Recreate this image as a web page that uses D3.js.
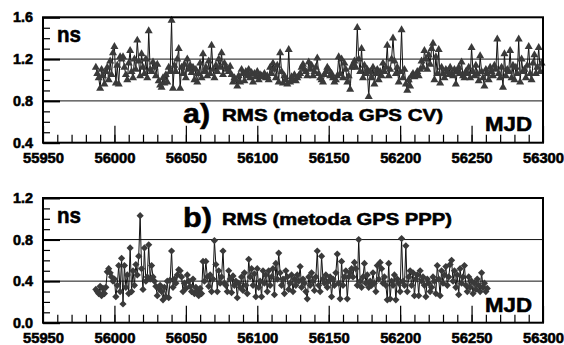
<!DOCTYPE html>
<html>
<head>
<meta charset="utf-8">
<script src="https://cdn.jsdelivr.net/npm/d3@7"></script>
<style>
  body { margin: 0; background: #fff; }
  svg text { font-family: "Liberation Sans", Arimo, Arial, sans-serif; font-weight: 700; fill: #000; stroke: #000; stroke-width: 0.55px; }
</style>
</head>
<body>
<div id="chart"></div>
<script>
// MJD of the first daily sample in each series
const cvStartMjd = 55987;
const pppStartMjd = 55987;

// a) RMS, GPS CV method (ns), one value per day
const cvRms = [
  1.12, 1.06, 1.02, 0.92, 1.10, 1.04, 0.96, 1.08, 1.12, 1.00,
  1.18, 1.05, 1.26, 1.32, 0.97, 1.14, 0.96, 1.22, 1.20, 1.22,
  1.12, 1.05, 1.00, 1.16, 1.28, 1.08, 1.02, 1.20, 1.10, 1.38,
  1.18, 1.04, 1.25, 1.12, 1.06, 1.20, 1.02, 1.47, 1.10, 1.08,
  1.17, 1.12, 1.04, 1.15, 0.99, 0.95, 0.93, 1.02, 0.97, 1.05,
  0.98, 1.12, 1.08, 1.57, 0.92, 1.14, 1.08, 1.20, 1.30, 0.92,
  1.12, 1.06, 1.15, 1.02, 1.20, 1.10, 1.14, 1.07, 1.12, 1.00,
  1.10, 0.98, 1.06, 1.16, 1.02, 1.25, 1.08, 1.12, 1.04, 1.18,
  1.06, 1.33, 1.10, 1.02, 1.14, 1.08, 1.20, 1.12, 1.26, 1.05,
  1.16, 1.12, 1.10, 1.08, 1.13, 1.05, 0.98, 1.02, 1.00, 0.94,
  1.04, 0.98, 1.10, 1.06, 0.99, 1.08, 1.04, 1.10, 1.02, 1.07,
  0.98, 1.06, 1.03, 1.08, 1.00, 1.05, 1.04, 1.03, 1.06, 1.02,
  1.04, 1.00, 1.12, 1.06, 1.16, 1.10, 1.02, 1.14, 0.98, 1.26,
  1.08, 0.97, 1.04, 1.00, 0.96, 1.29, 0.98, 1.03, 1.00, 1.05,
  0.99, 1.02, 1.04, 1.06, 1.12, 1.15, 1.10, 1.08, 1.04, 1.17,
  1.10, 1.14, 1.04, 1.08, 1.12, 1.21, 1.06, 1.02, 1.00, 0.98,
  1.05, 1.08, 1.12, 1.10, 1.04, 1.06, 1.02, 0.98, 1.00, 1.04,
  1.22, 1.06, 1.20, 1.02, 1.16, 1.10, 0.98, 1.04, 0.91, 1.12,
  1.15, 1.18, 1.12, 1.50, 1.20, 1.08, 1.30, 1.02, 1.14, 1.06,
  1.10, 0.84, 1.08, 1.02, 1.12, 0.96, 1.06, 1.10, 1.00, 1.08,
  1.04, 1.16, 1.08, 1.12, 1.33, 1.04, 1.10, 1.20, 1.40, 1.18,
  1.06, 1.12, 0.98, 1.08, 1.48, 1.02, 1.10, 0.96, 0.90, 1.00,
  0.94, 1.04, 1.06, 1.03, 1.05, 1.08, 1.04, 1.10, 1.18, 1.12,
  1.28, 1.20, 1.10, 1.24, 1.15, 1.30, 1.35, 1.00, 1.22, 1.06,
  1.29, 0.97, 1.12, 1.06, 1.02, 1.10, 1.08, 1.05, 1.12, 1.06,
  1.04, 1.10, 0.96, 1.08, 1.12, 1.06, 1.17, 1.04, 1.02, 1.08,
  1.06, 1.12, 1.02, 1.31, 1.08, 1.04, 1.14, 1.06, 0.99, 1.23,
  1.08, 1.02, 0.94, 1.10, 1.06, 1.00, 1.12, 1.08, 1.04, 1.14,
  1.10, 1.39, 1.06, 1.02, 1.12, 0.93, 1.25, 1.04, 1.10, 1.08,
  1.28, 1.02, 1.14, 1.00, 1.12, 1.06, 1.39, 0.98, 1.20, 1.08,
  1.10, 1.02, 1.14, 1.32, 1.06, 1.00, 1.16, 1.24, 1.06, 1.12,
  1.31, 1.08, 1.16
];

// b) RMS, GPS PPP method (ns), one value per day
const pppRms = [
  0.32, 0.30, 0.28, 0.35, 0.26, 0.33, 0.28, 0.34, 0.49, 0.52,
  0.48, 0.44, 0.40, 0.42, 0.25, 0.36, 0.55, 0.30, 0.62, 0.18,
  0.55, 0.34, 0.46, 0.28, 0.72, 0.30, 0.50, 0.36, 0.56, 0.46,
  0.64, 1.03, 0.52, 0.32, 0.72, 0.40, 0.44, 0.75, 0.42, 0.55,
  0.44, 0.40, 0.35, 0.26, 0.33, 0.36, 0.30, 0.22, 0.34, 0.25,
  0.40, 0.24, 0.41, 0.69, 0.34, 0.42, 0.38, 0.46, 0.51, 0.50,
  0.44, 0.30, 0.38, 0.33, 0.46, 0.40, 0.35, 0.30, 0.42, 0.28,
  0.34, 0.30, 0.26, 0.33, 0.28, 0.59, 0.40, 0.59, 0.44, 0.35,
  0.46, 0.30, 0.42, 0.79, 0.56, 0.30, 0.50, 0.38, 0.44, 0.69,
  0.38, 0.36, 0.30, 0.50, 0.42, 0.29, 0.45, 0.36, 0.40, 0.24,
  0.38, 0.34, 0.44, 0.31, 0.48, 0.36, 0.28, 0.61, 0.44, 0.52,
  0.36, 0.47, 0.25, 0.52, 0.34, 0.40, 0.25, 0.50, 0.38, 0.46,
  0.30, 0.50, 0.36, 0.44, 0.52, 0.27, 0.57, 0.42, 0.67, 0.48,
  0.36, 0.42, 0.28, 0.50, 0.44, 0.32, 0.38, 0.46, 0.30, 0.42,
  0.36, 0.46, 0.40, 0.54, 0.34, 0.42, 0.38, 0.30, 0.23, 0.44,
  0.36, 0.48, 0.40, 0.31, 0.44, 0.69, 0.36, 0.30, 0.64, 0.42,
  0.38, 0.46, 0.34, 0.40, 0.44, 0.25, 0.42, 0.36, 0.48, 0.66,
  0.38, 0.23, 0.59, 0.36, 0.44, 0.50, 0.23, 0.44, 0.48, 0.52,
  0.44, 0.58, 0.52, 0.36, 0.80, 0.40, 0.34, 0.44, 0.57, 0.38,
  0.46, 0.34, 0.40, 0.36, 0.48, 0.38, 0.30, 0.55, 0.42, 0.58,
  0.52, 0.38, 0.44, 0.36, 0.22, 0.57, 0.23, 0.40, 0.36, 0.46,
  0.22, 0.42, 0.38, 0.30, 0.81, 0.40, 0.36, 0.74, 0.30, 0.44,
  0.50, 0.36, 0.48, 0.26, 0.42, 0.46, 0.26, 0.50, 0.40, 0.44,
  0.36, 0.25, 0.42, 0.38, 0.30, 0.34, 0.44, 0.40, 0.28, 0.55,
  0.42, 0.26, 0.50, 0.38, 0.46, 0.54, 0.36, 0.44, 0.56, 0.60,
  0.40, 0.50, 0.34, 0.46, 0.27, 0.52, 0.38, 0.44, 0.55, 0.36,
  0.30, 0.44, 0.34, 0.40, 0.28, 0.38, 0.32, 0.42, 0.36, 0.30,
  0.48, 0.34, 0.38, 0.30, 0.33
];

// tick labels
const xTickLabels = [55950, 56000, 56050, 56100, 56150, 56200, 56250, 56300];
const yTickLabelsA = [0.4, 0.8, 1.2, 1.6];
const yTickLabelsB = [0.0, 0.4, 0.8, 1.2];

const width = 564;
const height = 345;

const svg = d3.select('#chart')
  .append('svg')
  .attr('width', width)
  .attr('height', height);

svg.append('rect').attr('width', width).attr('height', height).attr('fill', '#fff');

function toPoints(start, values) {
  return values.map((v, i) => ({ mjd: start + i, value: v }));
}

// tick text: bold 14px, slightly widened like the original
function styleTickText(a, labelWidth) {
  a.attr('font-family', null).attr('font-size', null);
  a.selectAll('text')
    .style('font-size', '14px')
    .attr('textLength', labelWidth)
    .attr('lengthAdjust', 'spacingAndGlyphs');
}

function drawPanel(opts) {
  const { top, bottom, left, right, yTicks, data, symbol, rotate, label, title, titleWidth, letterWidth, mjdY } = opts;

  const x = d3.scaleLinear()
    .domain([xTickLabels[0], xTickLabels[xTickLabels.length - 1]])
    .range([left, right]);
  const y = d3.scaleLinear()
    .domain([yTicks[0], yTicks[yTicks.length - 1]])
    .range([bottom, top]);

  const g = svg.append('g');

  // Grid lines at interior major ticks
  g.selectAll('.grid')
    .data(yTicks.slice(1, -1))
    .enter()
    .append('line')
    .attr('x1', left).attr('x2', right)
    .attr('y1', d => y(d)).attr('y2', d => y(d))
    .attr('stroke', '#111')
    .attr('stroke-width', 1);

  // Minor x ticks (every 10 days)
  const minorX = d3.range(xTickLabels[0] + 10, xTickLabels[xTickLabels.length - 1], 10);
  g.append('g')
    .attr('transform', `translate(0,${bottom})`)
    .call(d3.axisBottom(x).tickValues(minorX).tickSize(-8).tickFormat(''))
    .call(a => a.select('.domain').remove())
    .call(a => a.selectAll('line').attr('stroke', '#000').attr('stroke-width', 1.2));

  // Major x ticks and labels
  g.append('g')
    .attr('transform', `translate(0,${bottom})`)
    .call(d3.axisBottom(x).tickValues(xTickLabels).tickSize(-17).tickPadding(10).tickFormat(d3.format('d')))
    .call(a => a.select('.domain').remove())
    .call(a => a.selectAll('line').attr('stroke', '#000').attr('stroke-width', 1.2))
    .call(a => styleTickText(a, 41));

  // Minor y ticks (every 0.1 ns)
  const minorY = d3.range(yTicks[0] + 0.1, yTicks[yTicks.length - 1] - 0.05, 0.1);
  g.append('g')
    .attr('transform', `translate(${left},0)`)
    .call(d3.axisLeft(y).tickValues(minorY).tickSize(-7).tickFormat(''))
    .call(a => a.select('.domain').remove())
    .call(a => a.selectAll('line').attr('stroke', '#000').attr('stroke-width', 1.2));

  // Major y ticks and labels
  g.append('g')
    .attr('transform', `translate(${left},0)`)
    .call(d3.axisLeft(y).tickValues(yTicks).tickSize(-17).tickPadding(10).tickFormat(d3.format('.1f')))
    .call(a => a.select('.domain').remove())
    .call(a => a.selectAll('line').attr('stroke', '#000').attr('stroke-width', 2))
    .call(a => styleTickText(a, 20));

  // Data line
  const line = d3.line()
    .x(d => x(d.mjd))
    .y(d => y(d.value));

  g.append('path')
    .datum(data)
    .attr('d', line)
    .attr('fill', 'none')
    .attr('stroke', '#111')
    .attr('stroke-width', 1);

  // Markers
  const sym = d3.symbol().type(symbol.type).size(symbol.size);
  g.selectAll('.marker')
    .data(data)
    .enter()
    .append('path')
    .attr('class', 'marker')
    .attr('d', sym)
    .attr('transform', d => `translate(${x(d.mjd)},${y(d.value)}) rotate(${rotate})`)
    .attr('fill', '#3a3a3a');

  // Frame
  g.append('rect')
    .attr('x', left).attr('y', top)
    .attr('width', right - left).attr('height', bottom - top)
    .attr('fill', 'none')
    .attr('stroke', '#000')
    .attr('stroke-width', 2);

  // Unit label
  g.append('text')
    .attr('x', 57).attr('y', top + 24.5)
    .attr('textLength', 24)
    .attr('lengthAdjust', 'spacingAndGlyphs')
    .style('font-size', '22px')
    .text('ns');

  // Panel letter and title
  g.append('text')
    .attr('x', 183).attr('y', label.y)
    .attr('textLength', letterWidth)
    .attr('lengthAdjust', 'spacingAndGlyphs')
    .style('font-size', '28px')
    .text(label.text);

  g.append('text')
    .attr('x', 222).attr('y', label.y - 2)
    .attr('textLength', titleWidth)
    .attr('lengthAdjust', 'spacingAndGlyphs')
    .style('font-size', '17px')
    .text(title);

  // Axis name
  g.append('text')
    .attr('x', 485).attr('y', mjdY)
    .attr('textLength', 47)
    .attr('lengthAdjust', 'spacingAndGlyphs')
    .style('font-size', '20px')
    .text('MJD');
}

drawPanel({
  top: 17.3, bottom: 142.7, left: 43, right: 543,
  yTicks: yTickLabelsA,
  data: toPoints(cvStartMjd, cvRms),
  symbol: { type: d3.symbolTriangle, size: 28 },
  rotate: 0,
  label: { text: 'a)', y: 123 },
  title: 'RMS (metoda GPS CV)',
  titleWidth: 221,
  letterWidth: 27,
  mjdY: 131
});

drawPanel({
  top: 198, bottom: 322.7, left: 43, right: 543,
  yTicks: yTickLabelsB,
  data: toPoints(pppStartMjd, pppRms),
  symbol: { type: d3.symbolSquare, size: 26 },
  rotate: 45,
  label: { text: 'b)', y: 227 },
  title: 'RMS (metoda GPS PPP)',
  titleWidth: 230,
  letterWidth: 29,
  mjdY: 311.7
});
</script>
</body>
</html>
